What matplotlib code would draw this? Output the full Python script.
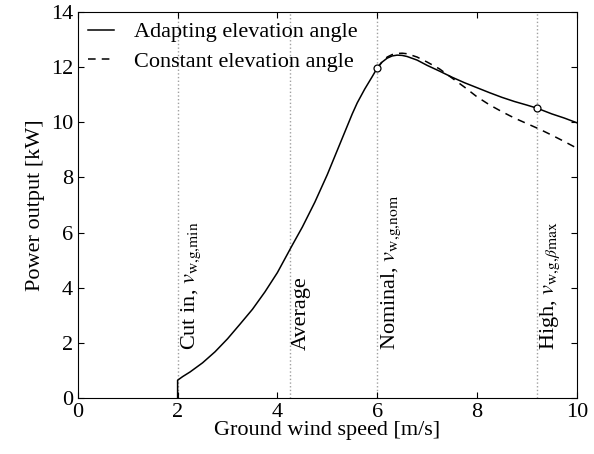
""" Power output versus ground wind speed for adapting and constant elevation angle. """

import matplotlib
matplotlib.use('Agg')
import matplotlib.pyplot as plt

plt.rcParams['font.family'] = ['Liberation Serif', 'DejaVu Serif']
plt.rcParams['mathtext.fontset'] = 'stix'
plt.rcParams['font.size'] = 16

# Adapting elevation angle (solid)
wind_adapt = [2.0, 2.0, 2.1, 2.25, 2.5, 2.75, 3.0, 3.25, 3.5, 3.75, 4.0, 4.15, 4.3,
              4.5, 4.75, 5.0, 5.25, 5.5, 5.6, 5.75, 5.9, 6.0, 6.1, 6.2, 6.3, 6.4, 6.5,
              6.6, 6.8, 7.0, 7.25, 7.5, 7.75, 8.0, 8.25, 8.5, 8.75, 9.0, 9.2, 9.5,
              9.75, 10.0]
power_adapt = [0.0, 0.65, 0.78, 0.95, 1.28, 1.68, 2.15, 2.68, 3.22, 3.85, 4.55, 5.05, 5.55,
               6.2, 7.1, 8.1, 9.2, 10.3, 10.7, 11.2, 11.65, 11.96, 12.18, 12.32, 12.4, 12.43, 12.42,
               12.38, 12.25, 12.06, 11.85, 11.63, 11.43, 11.25, 11.07, 10.9, 10.75, 10.62, 10.51, 10.3,
               10.15, 9.98]

# Constant elevation angle (dashed), same as above below nominal
wind_const = [6.0, 6.1, 6.2, 6.3, 6.4, 6.5, 6.6, 6.8, 7.0, 7.25, 7.5, 7.75, 8.0, 8.25,
              8.5, 8.75, 9.0, 9.25, 9.5, 9.75, 10.0]
power_const = [11.96, 12.2, 12.36, 12.45, 12.49, 12.5, 12.48, 12.36, 12.18, 11.93, 11.6,
               11.27, 10.92, 10.63, 10.38, 10.15, 9.95, 9.75, 9.53, 9.3, 9.06]

# Marked operating points
mark_wind = [6.0, 9.2]
mark_power = [11.96, 10.51]

# Characteristic wind speeds
ref_wind = [2.0, 4.25, 6.0, 9.2]
ref_labels = [r'Cut in, $v_{\mathrm{w{,}g{,}min}}$', 'Average',
              r'Nominal, $v_{\mathrm{w{,}g{,}nom}}$',
              r'High, $v_{\mathrm{w{,}g{,}}\beta\mathrm{max}}$']


def main():
    fig = plt.figure(figsize=(5.94, 4.54), dpi=100)
    ax = fig.add_axes([0.131, 0.123, 0.84, 0.851])

    for xv, label in zip(ref_wind, ref_labels):
        ax.axvline(xv, color='#a0a0a0', linestyle=':', linewidth=1.0, zorder=1)
        ax.text(xv + 0.04, 1.75, label, rotation=90, rotation_mode='anchor',
                ha='left', va='top')

    ax.plot(wind_adapt, power_adapt, color='black', linewidth=1.1,
            label='Adapting elevation angle', zorder=3)
    ax.plot(wind_const, power_const, color='black', linewidth=1.1, linestyle='--',
            dashes=(5, 4), label='Constant elevation angle', zorder=2)
    ax.plot(mark_wind, mark_power, linestyle='none', marker='o', markersize=5,
            markerfacecolor='white', markeredgecolor='black', markeredgewidth=0.9, zorder=4)

    ax.set_xlim(0, 10)
    ax.set_ylim(0, 14)
    ax.set_xticks(range(0, 11, 2))
    ax.set_yticks(range(0, 15, 2))
    ax.tick_params(direction='in', top=True, right=True, length=4, labelsize=16)

    ax.set_xlabel('Ground wind speed [m/s]', labelpad=-1)
    ax.set_ylabel('Power output [kW]', labelpad=4)

    ax.legend(loc='upper left', frameon=False, handlelength=1.2, handletextpad=0.9,
              borderaxespad=0.05, labelspacing=0.4, borderpad=0.4)

    fig.savefig('out.png', dpi=100)


if __name__ == '__main__':
    main()
